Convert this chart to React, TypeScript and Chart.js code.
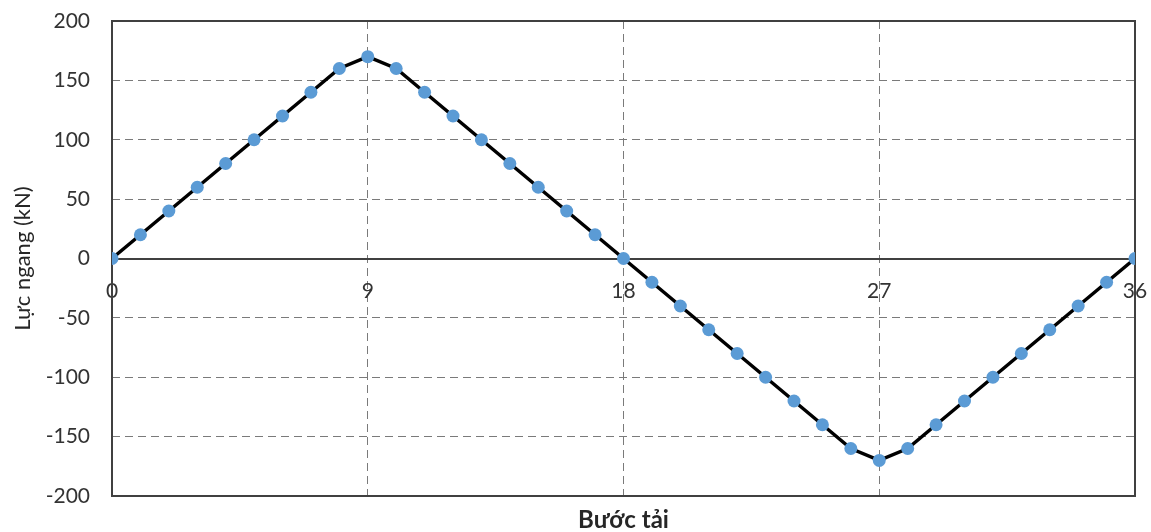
import React, { useEffect, useRef } from "react";
import { Chart, registerables } from "chart.js";

Chart.register(...registerables);

const steps: number[] = [
  0, 1, 2, 3, 4, 5, 6, 7, 8, 9, 10, 11, 12, 13, 14, 15, 16, 17, 18,
  19, 20, 21, 22, 23, 24, 25, 26, 27, 28, 29, 30, 31, 32, 33, 34, 35, 36,
];
const forces: number[] = [
  0, 20, 40, 60, 80, 100, 120, 140, 160, 170, 160, 140, 120, 100, 80, 60, 40, 20, 0,
  -20, -40, -60, -80, -100, -120, -140, -160, -170, -160, -140, -120, -100, -80, -60, -40, -20, 0,
];
const xTitle = "Bước tải";
const yTitle = "Lực ngang (kN)";
const xMin = 0;
const xMax = 36;
const xStep = 9;
const yMin = -200;
const yMax = 200;
const yStep = 50;

const FONT = "Lato, 'Noto Sans', sans-serif";

const boxPlugin = {
  id: "boxPlugin",
  beforeDatasetsDraw(chart: any) {
    const { ctx, chartArea } = chart;
    ctx.save();
    ctx.strokeStyle = "#404040";
    ctx.lineWidth = 2;
    ctx.setLineDash([]);
    ctx.strokeRect(chartArea.left, chartArea.top, chartArea.right - chartArea.left, chartArea.bottom - chartArea.top);
    ctx.restore();
  },
};

export default function App() {
  const ref = useRef<HTMLCanvasElement | null>(null);

  useEffect(() => {
    if (!ref.current) return;
    const chart = new Chart(ref.current, {
      type: "line",
      data: {
        datasets: [
          {
            data: steps.map((s, i) => ({ x: s, y: forces[i] })),
            borderColor: "#000000",
            borderWidth: 3.5,
            pointRadius: 6.5,
            pointBackgroundColor: "#5B9BD5",
            pointBorderColor: "#5B9BD5",
            pointBorderWidth: 0,
            tension: 0,
          },
        ],
      },
      plugins: [boxPlugin],
      options: {
        responsive: false,
        animation: false,
        layout: { padding: { left: 0, right: 16, top: 21, bottom: 0 } },
        plugins: {
          legend: { display: false },
          tooltip: { enabled: false },
          title: {
            display: true,
            text: xTitle,
            position: "bottom",
            fullSize: false,
            color: "#262626",
            font: { family: FONT, size: 24, weight: "bold", lineHeight: 1.0 },
            padding: { top: 12, bottom: 0 },
          },
        },
        scales: {
          x: {
            type: "linear",
            position: { y: 0 } as any,
            min: xMin,
            max: xMax,
            ticks: {
              stepSize: xStep,
              color: "#333333",
              padding: 2,
              font: { family: FONT, size: 21 },
              maxRotation: 0,
            },
            grid: {
              drawTicks: true,
              tickLength: 18,
              tickColor: "rgba(0,0,0,0)",
              lineWidth: 1,
              color: (c: any) =>
                c.tick && (c.tick.value === xMin || c.tick.value === xMax) ? "rgba(0,0,0,0)" : "#7a7a7a",
            },
            border: { display: true, color: "#404040", width: 2, dash: [8, 5] },
          },
          y: {
            type: "linear",
            min: yMin,
            max: yMax,
            afterFit: (s: any) => {
              s.width = 112;
            },
            ticks: {
              stepSize: yStep,
              color: "#333333",
              padding: 2,
              font: { family: FONT, size: 21 },
            },
            grid: {
              drawTicks: true,
              tickLength: 20,
              tickColor: "rgba(0,0,0,0)",
              lineWidth: 1,
              color: (c: any) =>
                c.tick && (c.tick.value === 0 || c.tick.value === yMin || c.tick.value === yMax)
                  ? "rgba(0,0,0,0)"
                  : "#7a7a7a",
            },
            border: { display: false, dash: [8, 5] },
            title: {
              display: true,
              text: yTitle,
              color: "#262626",
              font: { family: FONT, size: 22 },
              padding: { top: 10, bottom: 0 },
            },
          },
        },
      } as any,
    });
    return () => chart.destroy();
  }, []);

  return (
    <div style={{ position: "fixed", left: 0, top: 0, width: 1151, height: 532, background: "#fff" }}>
      <canvas ref={ref} width={1151} height={532} />
    </div>
  );
}
